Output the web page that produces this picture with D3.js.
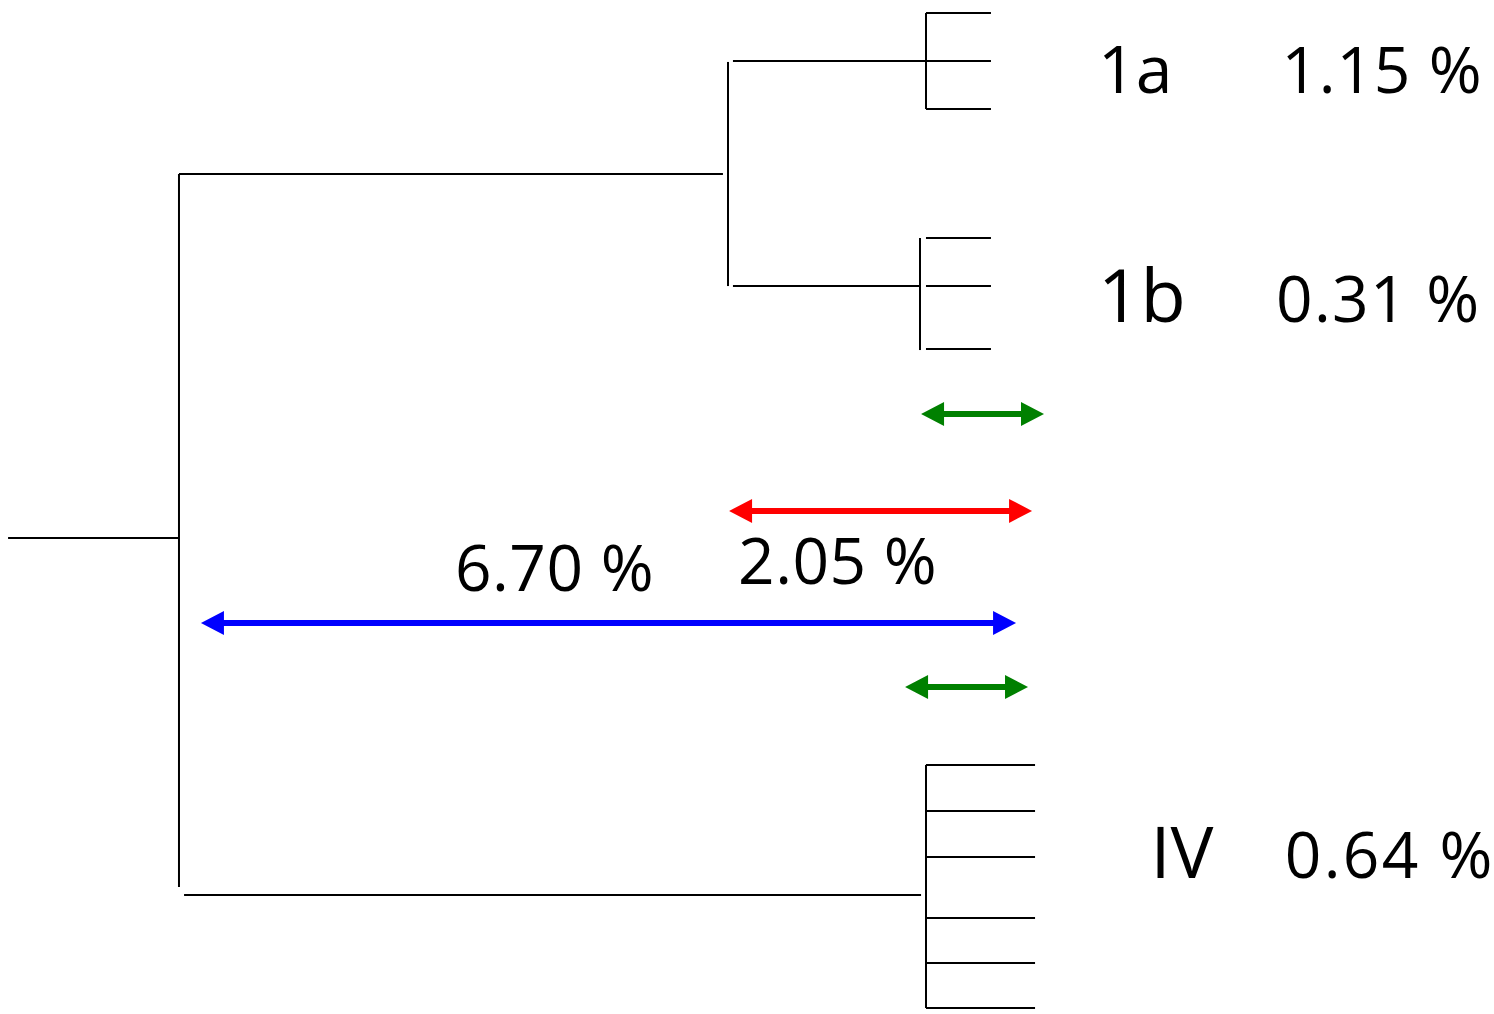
<!DOCTYPE html>
<html>
<head>
<meta charset="utf-8">
<script src="https://cdn.jsdelivr.net/npm/d3@7"></script>
<style>
  html, body { margin: 0; padding: 0; background: #fff; }
  svg { display: block; }
  text { font-family: "Open Sans", Roboto, sans-serif; fill: #000; }
</style>
</head>
<body>
<svg id="chart" width="1494" height="1014"></svg>
<script>
// ---- data (abstract units: x 0..100 across, y 0..100 down) ----
// horizontal branches of the dendrogram
const branchY    = [53.06, 17.16, 88.26, 6.02, 28.21];
const branchX0   = [0.54, 11.98, 12.32, 49.06, 49.06];
const branchX1   = [11.98, 48.39, 61.65, 61.98, 61.58];
// vertical connectors
const vertX      = [11.98, 48.73, 61.98, 61.58, 61.98];
const vertY0     = [17.16, 6.11, 1.28, 23.47, 75.44];
const vertY1     = [87.48, 28.21, 10.75, 34.52, 99.41];
// leaves per clade
const clades     = ["1a", "1b", "IV"];
const leafX0     = [61.98, 61.98, 61.98];
const leafX1     = [66.33, 66.33, 69.28];
const leafY      = [[1.28, 6.02, 10.75], [23.47, 28.21, 34.42], [75.44, 79.98, 84.52, 90.53, 94.97, 99.41]];
const cladeLabelX = [73.50, 73.50, 77.00];
const cladeLabelY = [9.17, 31.76, 86.59];
const cladeLabelSize = [66, 74, 72];
const withinDiv  = ["1.15 %", "0.31 %", "0.64 %"];
const withinDivX = [85.77, 85.40, 86.00];
const withinDivLen = [13.4, 13.6, 13.9];
// distance arrows
const arrowColor = ["#008000", "#ff0000", "#0000ff", "#008000"];
const arrowY     = [40.83, 50.39, 61.44, 67.75];
const arrowX0    = [61.65, 48.80, 13.45, 60.58];
const arrowX1    = [69.88, 69.08, 68.01, 68.81];
// between-group divergence labels
const betweenDiv  = ["6.70 %", "2.05 %"];
const betweenDivX = [30.45, 49.40];
const betweenDivY = [58.28, 57.59];
const betweenDivLen = [13.3, 13.3];

// ---- drawing ----
const W = 1494, H = 1014;
const svg = d3.select("#chart");
const x = d3.scaleLinear().domain([0, 100]).range([0, W]);
const y = d3.scaleLinear().domain([0, 100]).range([0, H]);

const tree = svg.append("g").attr("stroke", "#000").attr("stroke-width", 2).attr("fill", "none");

tree.selectAll("line.branch").data(branchY).join("line")
  .attr("class", "branch")
  .attr("x1", (d, i) => x(branchX0[i])).attr("x2", (d, i) => x(branchX1[i]))
  .attr("y1", d => y(d)).attr("y2", d => y(d));

tree.selectAll("line.vert").data(vertX).join("line")
  .attr("class", "vert")
  .attr("x1", d => x(d)).attr("x2", d => x(d))
  .attr("y1", (d, i) => y(vertY0[i])).attr("y2", (d, i) => y(vertY1[i]));

clades.forEach((c, ci) => {
  tree.selectAll("line.leaf" + ci).data(leafY[ci]).join("line")
    .attr("class", "leaf" + ci)
    .attr("x1", x(leafX0[ci])).attr("x2", x(leafX1[ci]))
    .attr("y1", d => y(d)).attr("y2", d => y(d));
});

// arrows
const headLen = 23, headHalf = 12, lineW = 6;
const ag = svg.append("g");
arrowY.forEach((ay, i) => {
  const yy = y(ay), xa = x(arrowX0[i]), xb = x(arrowX1[i]);
  ag.append("line")
    .attr("x1", xa + headLen - 2).attr("x2", xb - headLen + 2)
    .attr("y1", yy).attr("y2", yy)
    .attr("stroke", arrowColor[i]).attr("stroke-width", lineW);
  const path = d3.path();
  path.moveTo(xa, yy); path.lineTo(xa + headLen, yy - headHalf); path.lineTo(xa + headLen, yy + headHalf); path.closePath();
  path.moveTo(xb, yy); path.lineTo(xb - headLen, yy - headHalf); path.lineTo(xb - headLen, yy + headHalf); path.closePath();
  ag.append("path").attr("d", path.toString()).attr("fill", arrowColor[i]);
});

// labels
const tg = svg.append("g");
clades.forEach((c, i) => {
  tg.append("text").attr("x", x(cladeLabelX[i])).attr("y", y(cladeLabelY[i]))
    .attr("font-size", cladeLabelSize[i]).text(c);
  tg.append("text").attr("x", x(withinDivX[i])).attr("y", y(cladeLabelY[i]))
    .attr("font-size", 64)
    .attr("textLength", x(withinDivLen[i])).attr("lengthAdjust", "spacing")
    .text(withinDiv[i]);
});
betweenDiv.forEach((t, i) => {
  tg.append("text").attr("x", x(betweenDivX[i])).attr("y", y(betweenDivY[i]))
    .attr("font-size", 64)
    .attr("textLength", x(betweenDivLen[i])).attr("lengthAdjust", "spacing")
    .text(t);
});
</script>
</body>
</html>
